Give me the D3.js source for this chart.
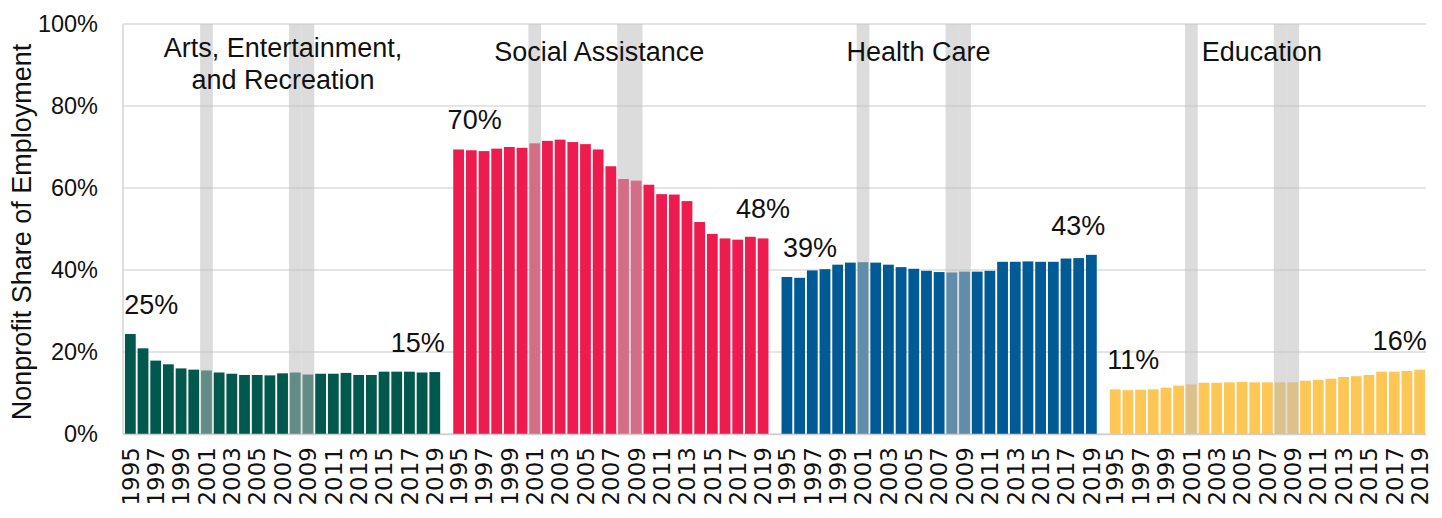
<!DOCTYPE html>
<html>
<head>
<meta charset="utf-8">
<script src="https://cdn.jsdelivr.net/npm/d3@7"></script>
<style>
  html, body { margin: 0; padding: 0; background: #fff; }
  svg { display: block; }
  text { font-family: "Liberation Sans", Arial, sans-serif; fill: #111; }
</style>
</head>
<body>
<svg id="chart" width="1442" height="518"></svg>
<script>
// ---------------- DATA ----------------
const sectors = ["Arts", "Social Assistance", "Health Care", "Education"];
const sectorTitles = [
  ["Arts, Entertainment,", "and Recreation"],
  ["Social Assistance"],
  ["Health Care"],
  ["Education"]
];
const years = [1995, 1996, 1997, 1998, 1999, 2000, 2001, 2002, 2003, 2004, 2005, 2006, 2007,
               2008, 2009, 2010, 2011, 2012, 2013, 2014, 2015, 2016, 2017, 2018, 2019];
const yearTickLabels = [1995, 1997, 1999, 2001, 2003, 2005, 2007, 2009, 2011, 2013, 2015, 2017, 2019];
const recessionYears = [2001, 2008, 2009];

const artsValues = [24.4, 20.9, 17.9, 17.0, 16.0, 15.7, 15.5, 15.0, 14.7, 14.4, 14.4, 14.3, 14.8,
                    15.0, 14.5, 14.7, 14.7, 14.9, 14.4, 14.4, 15.2, 15.2, 15.2, 15.0, 15.1];
const socialValues = [69.4, 69.2, 69.0, 69.6, 70.0, 69.8, 70.9, 71.5, 71.8, 71.2, 70.7, 69.4, 65.3,
                      62.2, 61.8, 60.8, 58.5, 58.4, 56.8, 51.7, 48.8, 47.7, 47.4, 48.1, 47.7];
const healthValues = [38.3, 38.1, 39.9, 40.2, 41.3, 41.8, 41.9, 41.8, 41.3, 40.7, 40.3, 39.8, 39.5,
                      39.4, 39.6, 39.6, 39.8, 42.0, 42.0, 42.1, 42.0, 42.0, 42.8, 42.9, 43.7];
const educationValues = [10.9, 10.7, 10.8, 10.9, 11.3, 11.8, 12.1, 12.5, 12.5, 12.6, 12.7, 12.6, 12.6,
                         12.6, 12.6, 13.0, 13.2, 13.5, 13.9, 14.1, 14.4, 15.2, 15.2, 15.4, 15.7];
const seriesValues = [artsValues, socialValues, healthValues, educationValues];

const firstLabels = ["25%", "70%", "39%", "11%"];
const lastLabels = ["15%", "48%", "43%", "16%"];
const yTicks = [0, 20, 40, 60, 80, 100];

// ---------------- STYLE / LAYOUT ----------------
const colors = ["#00594C", "#EE1B4F", "#005A96", "#FEC655"];
const titleOffsets = [159, 147, 138, 153];     // title centre from panel start
const firstLabelDx = [21, 16, 23, 18];
const lastLabelDx = [-17, 0, -13, -20];

const svg = d3.select("#chart");
const plot = { left: 123, right: 1426, top: 24, bottom: 434 };

const y = d3.scaleLinear().domain([0, 100]).range([plot.bottom, plot.top]);
const x0 = d3.scaleBand().domain(sectors).range([plot.left + 1, plot.right]).paddingInner(0.034);
const x1 = d3.scaleBand().domain(years).range([0, x0.bandwidth()]).paddingInner(0.15).paddingOuter(0.075);

// gridlines
svg.append("g").selectAll("line").data(yTicks).join("line")
  .attr("x1", plot.left).attr("x2", plot.right)
  .attr("y1", d => y(d)).attr("y2", d => y(d))
  .attr("stroke", "#dcdcdc").attr("stroke-width", 1.5);

// left axis line
svg.append("line")
  .attr("x1", plot.left).attr("x2", plot.left)
  .attr("y1", y(100)).attr("y2", y(0))
  .attr("stroke", "#d4d4d4").attr("stroke-width", 1.5);

// y axis
const yAxis = d3.axisLeft(y).tickValues(yTicks).tickFormat(d => d + "%").tickSize(0).tickPadding(0);
const yg = svg.append("g").attr("transform", `translate(98,0)`).call(yAxis);
yg.select(".domain").remove();
yg.selectAll("text")
  .style("font-family", "'Liberation Sans', Arial, sans-serif")
  .style("font-size", "23.5px").style("fill", "#111");

// y title
svg.append("text")
  .attr("transform", `translate(31,${(plot.top + plot.bottom) / 2 + 3}) rotate(-90)`)
  .attr("text-anchor", "middle")
  .style("font-size", "27px")
  .text("Nonprofit Share of Employment");

// panels
sectors.forEach((s, si) => {
  const g = svg.append("g").attr("transform", `translate(${x0(s)},0)`);
  const vals = seriesValues[si];

  g.selectAll("rect.bar").data(years).join("rect")
    .attr("class", "bar")
    .attr("x", d => x1(d))
    .attr("width", x1.bandwidth())
    .attr("y", (d, i) => y(vals[i]))
    .attr("height", (d, i) => y(0) - y(vals[i]))
    .attr("fill", colors[si]);

  // recession shading
  const pad = (x1.step() - x1.bandwidth()) / 2;
  g.selectAll("rect.rec").data(recessionYears).join("rect")
    .attr("class", "rec")
    .attr("x", d => x1(d) - pad)
    .attr("width", x1.step())
    .attr("y", y(100))
    .attr("height", y(0) - y(100))
    .attr("fill", "#bcbcbc")
    .attr("opacity", 0.52);

  // title
  const t = g.append("text")
    .attr("text-anchor", "middle")
    .style("font-size", "27px");
  sectorTitles[si].forEach((line, li) => {
    t.append("tspan").attr("x", titleOffsets[si]).attr("y", (sectorTitles[si].length > 1 ? 57 : 61) + li * 31.5).text(line);
  });

  // end labels
  const first = years[0], last = years[years.length - 1];
  g.append("text")
    .attr("text-anchor", "middle")
    .style("font-size", "27px")
    .attr("x", x1(first) + x1.bandwidth() / 2 + firstLabelDx[si])
    .attr("y", y(vals[0]) - 20)
    .text(firstLabels[si]);
  g.append("text")
    .attr("text-anchor", "middle")
    .style("font-size", "27px")
    .attr("x", x1(last) + x1.bandwidth() / 2 + lastLabelDx[si])
    .attr("y", y(vals[vals.length - 1]) - 20)
    .text(lastLabels[si]);

  // year ticks
  const xAxis = d3.axisBottom(x1).tickValues(yearTickLabels).tickSize(0).tickPadding(0);
  const xg = g.append("g").attr("transform", `translate(0,${plot.bottom})`).call(xAxis);
  xg.select(".domain").remove();
  xg.selectAll("text")
    .style("font-family", "'DejaVu Sans', sans-serif")
    .style("font-size", "23px").style("fill", "#111")
    .attr("text-anchor", "end")
    .attr("transform", "rotate(-90)")
    .attr("x", -13).attr("y", 0).attr("dy", "0.36em");
});

// baseline
svg.append("line")
  .attr("x1", plot.left).attr("x2", plot.right)
  .attr("y1", y(0) + 0.5).attr("y2", y(0) + 0.5)
  .attr("stroke", "#d0d0d0").attr("stroke-width", 1.5);
</script>
</body>
</html>
